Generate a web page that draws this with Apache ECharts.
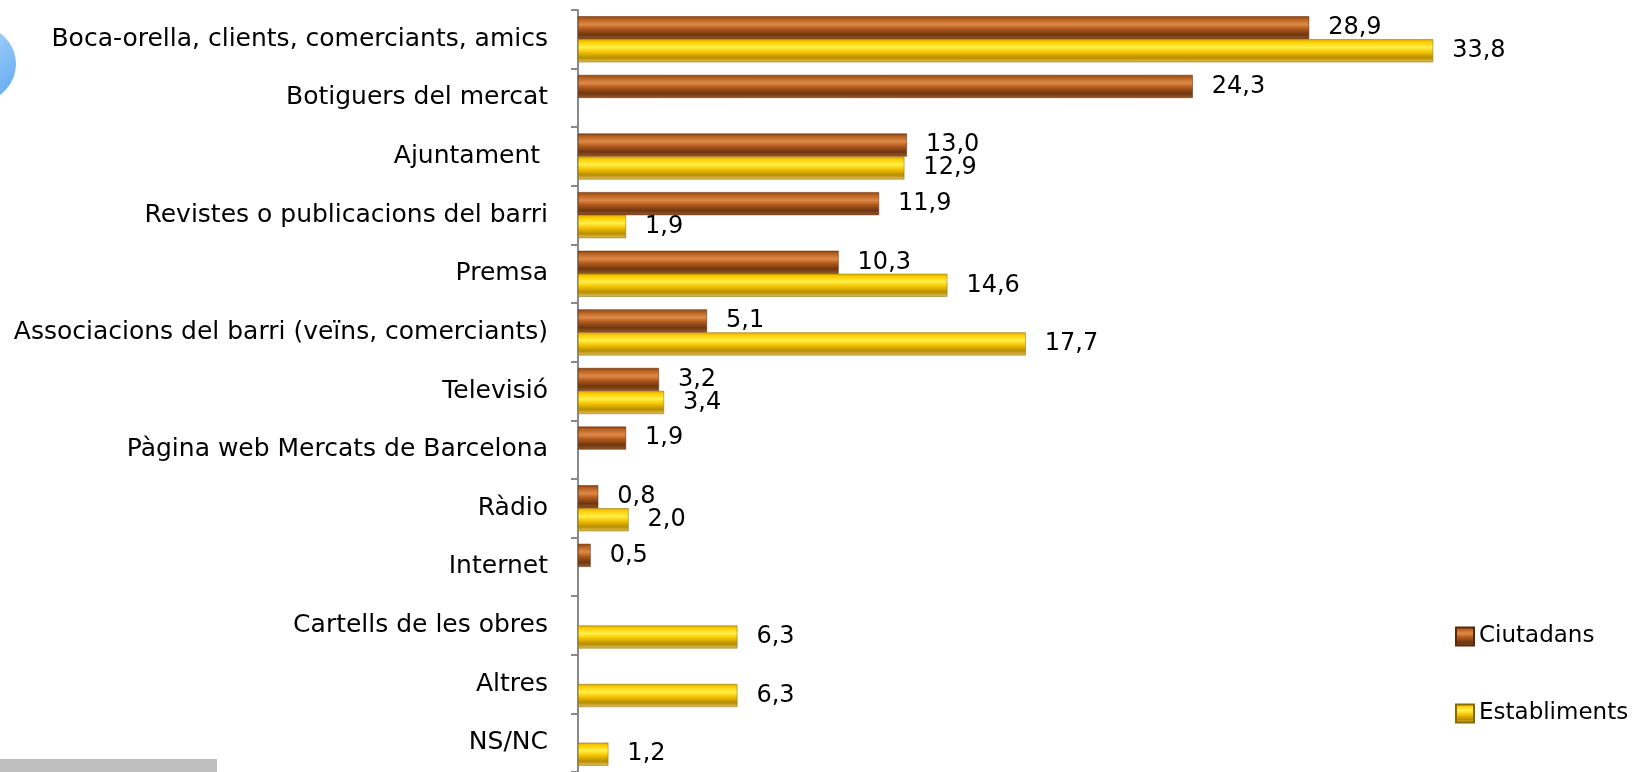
<!DOCTYPE html>
<html><head><meta charset="utf-8">
<script src="https://cdn.jsdelivr.net/npm/echarts@6/dist/echarts.min.js"></script>
<style>html,body{margin:0;padding:0;background:#fff}#c{width:1638px;height:772px}</style>
</head><body><div id="c"></div>
<script>
const categories = ['Boca-orella, clients, comerciants, amics','Botiguers del mercat','Ajuntament ','Revistes o publicacions del barri','Premsa','Associacions del barri (veïns, comerciants)','Televisió','Pàgina web Mercats de Barcelona','Ràdio','Internet','Cartells de les obres','Altres','NS/NC'];
const ciutadans = [28.9,24.3,13.0,11.9,10.3,5.1,3.2,1.9,0.8,0.5,null,null,null];
const establiments = [33.8,null,12.9,1.9,14.6,17.7,3.4,null,2.0,null,6.3,6.3,1.2];

const FONT = 'DejaVu Sans';
const brown = {type:'linear',x:0,y:0,x2:0,y2:1,colorStops:[
  {offset:0,color:'#8a4210'},{offset:0.12,color:'#b5601f'},{offset:0.35,color:'#de8a45'},
  {offset:0.55,color:'#b0581c'},{offset:0.8,color:'#6e3610'},{offset:1,color:'#9a5a2e'}]};
const gold = {type:'linear',x:0,y:0,x2:0,y2:1,colorStops:[
  {offset:0,color:'#d9a800'},{offset:0.12,color:'#ffcc00'},{offset:0.35,color:'#fff04a'},
  {offset:0.55,color:'#f5c400'},{offset:0.8,color:'#b88d00'},{offset:1,color:'#e0c060'}]};
const fmt = p => p.value == null ? '' : Number(p.value).toFixed(1).replace('.', ',');
const lbl = {show:true, position:'right', distance:19, color:'#000', fontFamily:FONT, fontSize:24, formatter:fmt};

const chart = echarts.init(document.getElementById('c'));
chart.setOption({
  animation:false,
  grid:{left:578, top:10, width:1012, height:767, containLabel:false},
  xAxis:{type:'value', min:0, max:40, show:false},
  yAxis:{type:'category', data:categories, inverse:true,
    axisLine:{show:true, lineStyle:{color:'#898989', width:2}},
    axisTick:{show:true, length:7, lineStyle:{color:'#898989', width:2}},
    axisLabel:{color:'#000', fontFamily:FONT, fontSize:25, margin:30, padding:[4,0,0,0]}},
  legend:{orient:'vertical', left:1450, top:620, itemGap:54, itemWidth:18, itemHeight:18,
    textStyle:{color:'#000', fontFamily:FONT, fontSize:23}, icon:'rect',
    data:['Ciutadans','Establiments']},
  graphic:[
    {type:'rect', shape:{x:0,y:759,width:217,height:13}, style:{fill:'#bfbfbf'}},
    {type:'circle', shape:{cx:-22,cy:64,r:38}, style:{fill:{type:'linear',x:0,y:0,x2:1,y2:1,colorStops:[{offset:0,color:'#cfe6ff'},{offset:1,color:'#5aa8f0'}]}}}
  ],
  series:[
    {name:'Ciutadans', type:'bar', data:ciutadans, barWidth:23, barGap:'0%',
      itemStyle:{color:brown, borderColor:'#5a2a08', borderWidth:0.5}, label:lbl},
    {name:'Establiments', type:'bar', data:establiments, barWidth:23, barGap:'0%',
      itemStyle:{color:gold, borderColor:'#8a6a00', borderWidth:0.5}, label:lbl}
  ]
});
</script></body></html>
